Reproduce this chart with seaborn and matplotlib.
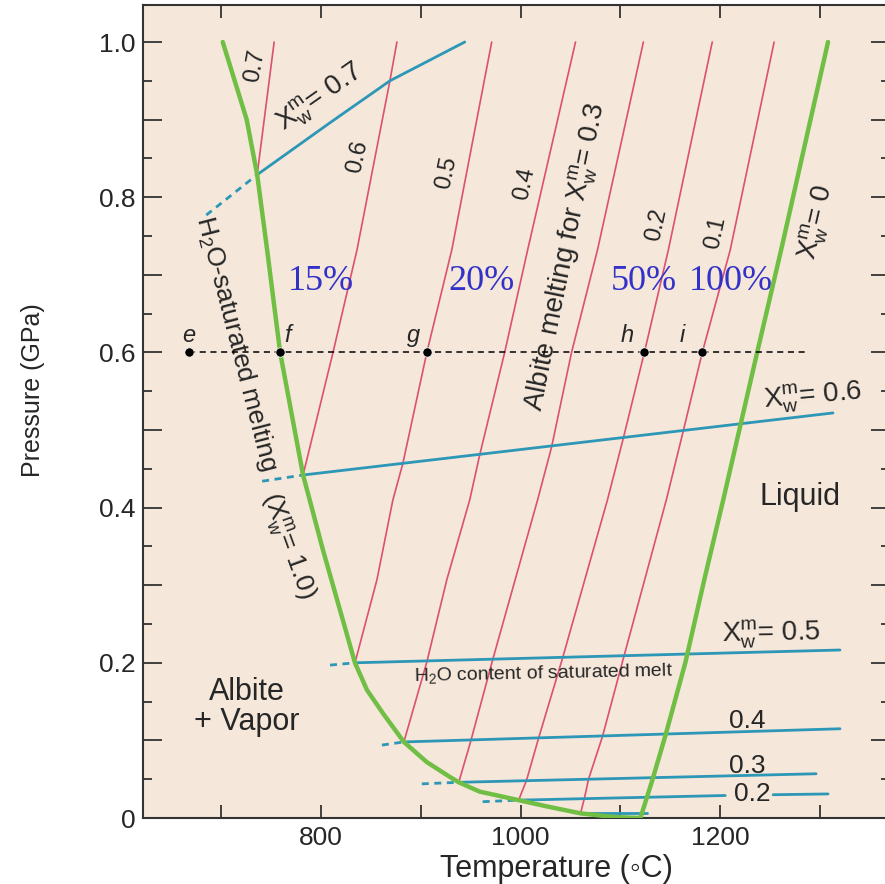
import numpy as np
import pandas as pd
import seaborn as sns
import matplotlib.pyplot as plt

# H2O-saturated solidus (green, left) and dry liquidus (green, right)
sol_T = [701.5, 713.5, 725.5, 736, 746, 759, 782, 802, 834, 846, 862, 883, 906, 929,
         938, 959, 998, 1026, 1060, 1093, 1120]
sol_P = [1.0, 0.95, 0.9, 0.829, 0.732, 0.6, 0.442, 0.345, 0.2, 0.165, 0.135,
         0.098, 0.072, 0.053, 0.046, 0.034, 0.023, 0.015, 0.006, 0.0013, 0.0]
liq_T = [1120, 1132, 1145, 1165, 1184, 1203, 1237, 1261, 1308]
liq_P = [0.0, 0.049, 0.106, 0.2, 0.307, 0.41, 0.6, 0.732, 1.0]

# albite melting curves for fixed X_w (red)
iso07_T = [736, 753]
iso07_P = [0.829, 1.0]
iso06_T = [782, 812, 836, 869, 876]
iso06_P = [0.442, 0.6, 0.732, 0.95, 1.0]
iso05_T = [834, 856, 872, 882, 906, 931, 971]
iso05_P = [0.2, 0.307, 0.41, 0.457, 0.6, 0.732, 1.0]
iso04_T = [883, 906, 926, 949, 959, 984, 1007, 1055]
iso04_P = [0.098, 0.201, 0.307, 0.41, 0.468, 0.6, 0.732, 1.0]
iso03_T = [938, 950, 972, 1017, 1031, 1051, 1077, 1123]
iso03_P = [0.046, 0.099, 0.204, 0.41, 0.478, 0.6, 0.732, 1.0]
iso02_T = [998, 1006, 1018, 1042, 1087, 1103, 1124, 1148, 1192]
iso02_P = [0.023, 0.049, 0.103, 0.206, 0.41, 0.49, 0.6, 0.732, 1.0]
iso01_T = [1060, 1064, 1068, 1082, 1103, 1146, 1163, 1182, 1210, 1254]
iso01_P = [0.006, 0.026, 0.05, 0.105, 0.206, 0.41, 0.499, 0.6, 0.732, 1.0]

# H2O content of saturated melt (blue)
b07_T = [736, 809, 869, 944]
b07_P = [0.829, 0.896, 0.95, 1.0]
b06_T = [782, 1313]
b06_P = [0.442, 0.522]
b05_T = [834, 1320]
b05_P = [0.2, 0.2165]
b04_T = [883, 1320]
b04_P = [0.098, 0.115]
b03_T = [938, 1296]
b03_P = [0.046, 0.057]
b02_T = [998, 1205]
b02_P = [0.023, 0.029]
b02b_T = [1253, 1308]
b02b_P = [0.030, 0.031]
b01_T = [1061, 1127]
b01_P = [0.007, 0.007]
stub_T = [685, 741, 809, 861, 901, 962]
stub_P = [0.777, 0.434, 0.197, 0.094, 0.044, 0.021]

# points along 0.6 GPa
pt_T = [668, 759, 906, 1124, 1182]
pt_P = [0.6, 0.6, 0.6, 0.6, 0.6]
pt_labels = ['e', 'f', 'g', 'h', 'i']
pt_label_T = [667.7, 766.9, 892.2, 1107.2, 1162.3]
path_T = [668, 1288]
path_P = [0.6, 0.6]

pct_labels = ['15%', '20%', '50%', '100%']
pct_T = [799.5, 961, 1123, 1211]

sns.set_style("ticks")
plt.rcParams['font.family'] = ['Liberation Sans', 'DejaVu Sans']
plt.rcParams['mathtext.default'] = 'regular'

GREEN = '#70BF44'
RED = '#DC5070'
BLUE = '#2C97B6'

fig = plt.figure(figsize=(8.85, 8.84), dpi=100)
ax = fig.add_axes([143/885, 66/884, 747/885, 813/884])
ax.set_facecolor('#F5E7DA')

def line(T, P, color, lw, **kw):
    sns.lineplot(x=T, y=P, ax=ax, color=color, linewidth=lw, sort=False,
                 estimator=None, legend=False, **kw)

for T, P in [(iso07_T, iso07_P), (iso06_T, iso06_P), (iso05_T, iso05_P), (iso04_T, iso04_P),
             (iso03_T, iso03_P), (iso02_T, iso02_P), (iso01_T, iso01_P)]:
    line(T, P, RED, 1.2, zorder=2)

solid_blue = [(b07_T, b07_P), (b06_T, b06_P), (b05_T, b05_P), (b04_T, b04_P),
              (b03_T, b03_P), (b02_T, b02_P)]
for (T, P), t0, p0 in zip(solid_blue, stub_T, stub_P):
    line([t0, T[0]], [p0, P[0]], BLUE, 2.0, linestyle=(0, (2.5, 2)), zorder=3)
for T, P in solid_blue + [(b02b_T, b02b_P), (b01_T, b01_P)]:
    line(T, P, BLUE, 2.0, zorder=3)

line(sol_T, sol_P, GREEN, 3.2, zorder=4)
line(liq_T, liq_P, GREEN, 3.2, zorder=4)

line(path_T, path_P, 'black', 1.1, linestyle=(0, (4, 3)), zorder=5)
sns.scatterplot(x=pt_T, y=pt_P, ax=ax, color='black', s=45, zorder=6, legend=False)
for t, lab in zip(pt_label_T, pt_labels):
    ax.text(t, 0.6134, lab, fontsize=17, style='italic', ha='center', va='baseline')

# red line labels
red_lab = [('0.7', 734, 0.970, 80), ('0.6', 837, 0.852, 78), ('0.5', 926, 0.831, 78),
           ('0.4', 1004, 0.818, 78), ('0.2', 1136, 0.764, 78), ('0.1', 1195, 0.754, 78)]
for s, x, y, r in red_lab:
    ax.text(x, y, s, fontsize=17, rotation=r, ha='center', va='center', rotation_mode='anchor')

ax.text(1297, 0.768, r'$X_w^m$= 0', fontsize=20, rotation=77, ha='center', va='center',
        rotation_mode='anchor')
ax.text(799, 0.929, r'$X_w^m$= 0.7', fontsize=20, rotation=35, ha='center', va='center',
        rotation_mode='anchor')
ax.text(1045.5, 0.723, r'Albite melting for $X_w^m$= 0.3', fontsize=20, rotation=78.5,
        ha='center', va='center', rotation_mode='anchor')
ax.text(714.8, 0.611, r'H$_2$O-saturated melting', fontsize=19, rotation=-75.5,
        ha='center', va='center', rotation_mode='anchor')
ax.text(766, 0.35, r'($X_w^m$= 1.0)', fontsize=19, rotation=-70,
        ha='center', va='center', rotation_mode='anchor')

ax.text(1293.5, 0.535, r'$X_w^m$= 0.6', fontsize=20, rotation=5, ha='center', va='baseline',
        rotation_mode='anchor')
ax.text(1251.4, 0.228, r'$X_w^m$= 0.5', fontsize=20, rotation=1, ha='center', va='baseline',
        rotation_mode='anchor')
for s, x, y in [('0.4', 1227, 0.116), ('0.3', 1227, 0.058), ('0.2', 1232, 0.0219)]:
    ax.text(x, y, s, fontsize=19, ha='center', va='baseline')

ax.text(1280, 0.4137, 'Liquid', fontsize=22, ha='center', va='center')
ax.text(726, 0.143, 'Albite\n+ Vapor', fontsize=22, ha='center', va='center', linespacing=1.0)
ax.text(1022.4, 0.186, r'H$_2$O content of saturated melt', fontsize=14, rotation=1.2,
        ha='center', va='center', rotation_mode='anchor')

for s, x in zip(pct_labels, pct_T):
    ax.text(x, 0.68, s, fontsize=26, color='#3232C8', family='Liberation Serif',
            ha='center', va='baseline')

ax.set_xlim(621.6, 1370.1)
ax.set_ylim(0, 1.0477)
ax.set_xticks(np.arange(700, 1301, 100))
ax.set_xticklabels(['', '800', '', '1000', '', '1200', ''])
ax.set_yticks(np.arange(0, 1.01, 0.1))
ax.set_yticklabels(['0', '', '0.2', '', '0.4', '', '0.6', '', '0.8', '', '1.0'])
ax.set_yticks(np.arange(0.05, 1.0, 0.1), minor=True)
ax.tick_params(axis='x', which='major', direction='in', length=9.4, width=1.3, top=True,
               labelsize=19, pad=6, color='#333333')
ax.tick_params(axis='y', which='major', direction='in', length=14, width=1.3, right=True,
               labelsize=19, pad=5.5, color='#333333')
ax.tick_params(axis='y', which='minor', direction='in', length=6.5, width=1.3, right=True,
               color='#333333')
for sp in ax.spines.values():
    sp.set_color('#333333')
    sp.set_linewidth(1.5)

ax.set_xlabel('Temperature (◦C)', fontsize=22, va='top')
ax.xaxis.set_label_coords(0.554, -0.044)
ax.set_ylabel('Pressure (GPa)', fontsize=18)
ax.yaxis.set_label_coords(-0.131, 0.526)

fig.savefig('out.png', dpi=100, facecolor='white')
